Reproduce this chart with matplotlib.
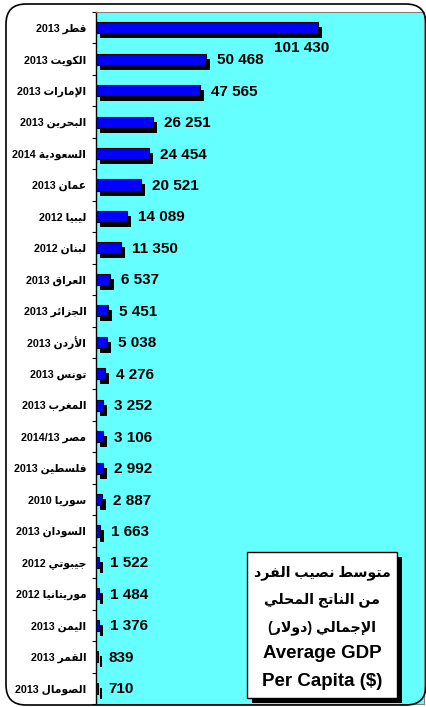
import matplotlib
matplotlib.use('Agg')
import matplotlib.pyplot as plt
import numpy as np
from matplotlib.patches import FancyBboxPatch, Rectangle
from matplotlib.transforms import ScaledTranslation, IdentityTransform

# data
countries = ['قطر', 'الكويت', 'الإمارات', 'البحرين', 'السعودية', 'عمان', 'ليبيا',
             'لبنان', 'العراق', 'الجزائر', 'الأردن', 'تونس', 'المغرب', 'مصر',
             'فلسطين', 'سوريا', 'السودان', 'جيبوتي', 'موريتانيا', 'اليمن',
             'القمر', 'الصومال']
years = ['2013', '2013', '2013', '2013', '2014', '2013', '2012', '2012', '2013',
         '2013', '2013', '2013', '2013', '2014/13', '2013', '2010', '2013',
         '2012', '2012', '2013', '2013', '2013']
gdp = [101430, 50468, 47565, 26251, 24454, 20521, 14089, 11350, 6537, 5451,
       5038, 4276, 3252, 3106, 2992, 2887, 1663, 1522, 1484, 1376, 839, 710]
title_ar = ['متوسط نصيب الفرد', 'من الناتج المحلي', 'الإجمالي', 'دولار']
title_en = ['Average GDP', 'Per Capita ($)']

# minimal arabic shaping (presentation forms, visual order) since matplotlib has none
DUAL = {'ب': 0xFE8F, 'ت': 0xFE95, 'ج': 0xFE9D, 'ح': 0xFEA1, 'س': 0xFEB1,
        'ص': 0xFEB9, 'ط': 0xFEC1, 'ع': 0xFEC9, 'غ': 0xFECD, 'ف': 0xFED1,
        'ق': 0xFED5, 'ك': 0xFED9, 'ل': 0xFEDD, 'م': 0xFEE1, 'ن': 0xFEE5,
        'ي': 0xFEF1, 'ئ': 0xFE89}
RIGHT = {'ا': 0xFE8D, 'أ': 0xFE83, 'إ': 0xFE87, 'د': 0xFEA9, 'ر': 0xFEAD,
         'ز': 0xFEAF, 'و': 0xFEED, 'ة': 0xFE93}
LAM_ALEF = {'ا': 0xFEFB, 'أ': 0xFEF7, 'إ': 0xFEF9}


def shape(text):
    out = []
    i = 0
    n = len(text)
    while i < n:
        c = text[i]
        prev = i > 0 and text[i - 1] in DUAL
        if c == 'ل' and i + 1 < n and text[i + 1] in LAM_ALEF:
            out.append(chr(LAM_ALEF[text[i + 1]] + int(prev)))
            i += 2
            continue
        nxt = i + 1 < n and (text[i + 1] in DUAL or text[i + 1] in RIGHT)
        if c in DUAL:
            out.append(chr(DUAL[c] + [[0, 2], [1, 3]][prev][nxt]))
        elif c in RIGHT:
            out.append(chr(RIGHT[c] + int(prev)))
        else:
            out.append(c)
        i += 1
    return ''.join(reversed(out))


plt.rcParams['font.family'] = ['Liberation Sans', 'DejaVu Sans']
plt.rcParams['font.weight'] = 'bold'

W, H = 427, 707
fig = plt.figure(figsize=(W / 100, H / 100), dpi=100)
ax = fig.add_axes([96 / W, 3 / H, 328 / W, 692 / H])
ax.set_facecolor('#66ffff')

y = np.arange(len(gdp))
shadow = ax.barh(y, gdp, height=0.35, color='black', zorder=2)
for p in shadow:
    p.set_transform(ax.transData + ScaledTranslation(0.04, -0.05, fig.dpi_scale_trans))
ax.barh(y, gdp, height=0.35, color='#0000ff', edgecolor='black', linewidth=0.8, zorder=3)

ax.set_xlim(0, 150000)
ax.set_ylim(len(gdp) - 0.5, -0.5)
ax.set_xticks([])
ax.set_yticks(y)
ax.set_yticklabels([f'{yr} {shape(c)}' for c, yr in zip(countries, years)],
                   fontsize=7.7, fontweight='bold')
ax.set_yticks(np.arange(len(gdp) + 1) - 0.5, minor=True)
ax.tick_params(axis='y', which='major', length=0, pad=7)
ax.tick_params(axis='y', which='minor', length=3, width=0.8)
for side in ['top', 'right', 'bottom']:
    ax.spines[side].set_color('#808080')
ax.spines['left'].set_linewidth(1.0)

for i, v in enumerate(gdp):
    txt = f'{v:,}'.replace(',', ' ')
    if i == 0:
        ax.annotate(txt, (v, i), xytext=(11, -20), textcoords='offset pixels',
                    ha='right', va='center', fontsize=11, fontweight='bold')
    else:
        ax.annotate(txt, (v, i), xytext=(11, -1), textcoords='offset pixels',
                    ha='left', va='center', fontsize=11, fontweight='bold')

# rounded outer frame
fig.add_artist(FancyBboxPatch((6, 2), 420, 701, boxstyle='round,pad=0,rounding_size=20',
                              fill=False, edgecolor='black', linewidth=1.2,
                              transform=IdentityTransform(), zorder=5))

# title box with shadow
fig.add_artist(Rectangle((252, 4), 150, 146, facecolor='black', edgecolor='none',
                         transform=IdentityTransform(), zorder=6))
fig.add_artist(Rectangle((247, 9), 150, 146, facecolor='white', edgecolor='black',
                         linewidth=1.0, transform=IdentityTransform(), zorder=7))
lines = [shape(title_ar[0]), shape(title_ar[1]),
         '(' + shape(title_ar[3]) + ') ' + shape(title_ar[2]),
         title_en[0], title_en[1]]
sizes = [10.2, 10.2, 10.2, 13.5, 13.5]
for line, yc, fs in zip(lines, [573, 600, 628, 654, 682], sizes):
    fig.text(322, H - yc, line, ha='center', va='center', fontsize=fs,
             fontweight='bold', transform=IdentityTransform(), zorder=8)

fig.savefig('out.png', dpi=100)
